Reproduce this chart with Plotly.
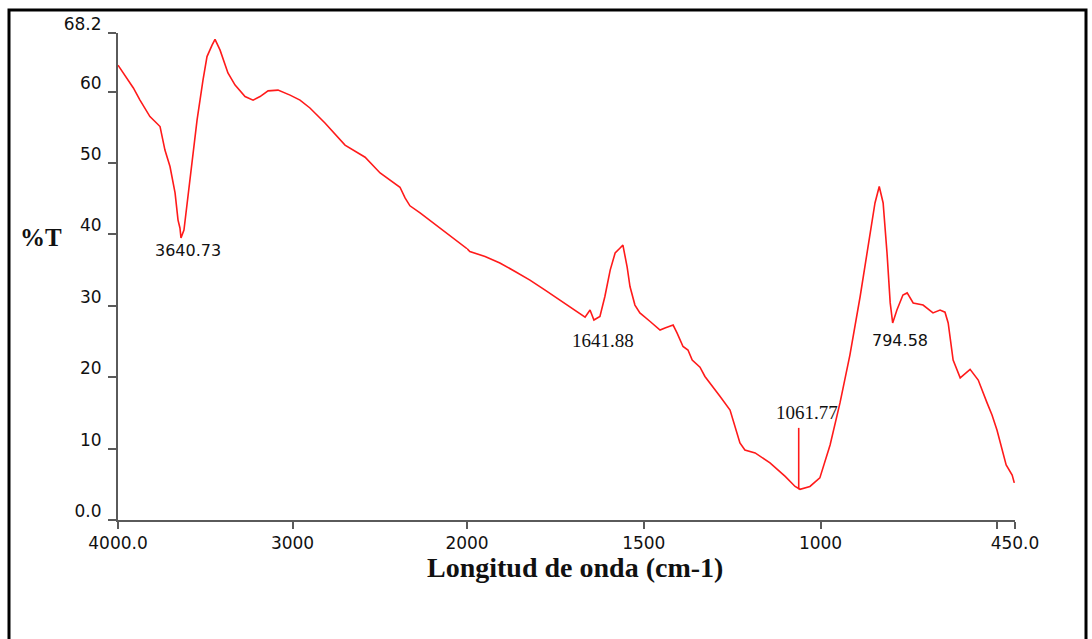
import plotly.graph_objects as go

# ---- data (wavenumber cm-1, %T) ----
# high-wavenumber segment (4000 -> 2000), compressed scale
wn_hi = [4000, 3912, 3874, 3817, 3788, 3759, 3731, 3702, 3673, 3656, 3645, 3639, 3622,
         3587, 3547, 3513, 3490, 3461, 3444, 3415, 3370, 3329, 3272, 3226, 3186, 3140,
         3083, 3014, 2957, 2900, 2814, 2699, 2584, 2498, 2384, 2355, 2344, 2327, 2269,
         2155, 2069, 2000]
t_hi = [63.7, 60.5, 58.8, 56.5, 55.8, 55.1, 51.8, 49.5, 45.8, 42.0, 40.9, 39.5, 40.6,
        47.6, 56.0, 61.6, 64.9, 66.5, 67.3, 65.8, 62.6, 60.9, 59.3, 58.8, 59.3, 60.1,
        60.2, 59.5, 58.8, 57.7, 55.6, 52.5, 50.8, 48.6, 46.6, 45.1, 44.6, 44.0, 43.0,
        40.9, 39.2, 38.0]

# low-wavenumber segment (2000 -> 450), expanded scale
wn_lo = [2000, 1992, 1949, 1907, 1864, 1822, 1779, 1737, 1694, 1666, 1652, 1641, 1624,
         1610, 1595, 1581, 1567, 1559, 1547, 1539, 1525, 1511, 1482, 1454, 1440, 1417,
         1406, 1389, 1375, 1363, 1341, 1327, 1284, 1256, 1228, 1214, 1185, 1143, 1100,
         1072, 1058, 1030, 1002, 973, 945, 917, 888, 860, 846, 834, 823, 812, 803, 796,
         784, 767, 755, 738, 710, 682, 662, 648, 639, 625, 605, 577, 554, 529, 515, 501,
         487, 475, 458, 452]
t_lo = [38.0, 37.6, 36.9, 36.0, 34.8, 33.6, 32.2, 30.8, 29.4, 28.4, 29.4, 28.0, 28.5,
        31.3, 35.0, 37.4, 38.1, 38.5, 35.4, 32.7, 30.1, 29.0, 27.8, 26.6, 26.9, 27.3,
        26.2, 24.3, 23.8, 22.4, 21.4, 20.1, 17.3, 15.4, 10.8, 9.8, 9.4, 8.0, 6.1,
        4.7, 4.3, 4.7, 5.9, 10.5, 16.4, 23.1, 31.3, 39.7, 44.4, 46.7, 44.4, 37.4, 30.4, 27.6,
        29.4, 31.5, 31.8, 30.4, 30.1, 29.0, 29.4, 29.1, 27.6, 22.4, 19.9, 21.1, 19.6, 16.4,
        14.7, 12.6, 9.8, 7.7, 6.3, 5.2]

# peak labels
peak_hi_labels = ["3640.73"]
peak_hi_x = [3599]
peak_hi_y = [37.7]
peak_lo_labels = ["1641.88", "1061.77", "794.58"]
peak_lo_x = [1615, 1038, 775]
peak_lo_y = [25.2, 15.0, 25.2]

# marker line at 1061.77
marker_wn = [1061.77, 1061.77]
marker_t = [4.3, 12.9]

# ticks
x_hi_ticks = [4000, 3000, 2000]
x_hi_text = ["4000.0", "3000", "2000"]
x_lo_ticks = [1500, 1000, 500, 450]
x_lo_text = ["1500", "1000", "", "450.0"]
y_ticks = [0, 10, 20, 30, 40, 50, 60, 68.2]
y_text = ["0.0", "10", "20", "30", "40", "50", "60", "68.2"]

RED = "#ff1a1a"
AX = "#5a5a5a"
TICKFONT = dict(family="DejaVu Sans", size=17, color="#111111")

fig = go.Figure()
fig.add_trace(go.Scatter(x=wn_hi, y=t_hi, mode="lines", xaxis="x", yaxis="y",
                         line=dict(color=RED, width=1.6), showlegend=False))
fig.add_trace(go.Scatter(x=wn_lo, y=t_lo, mode="lines", xaxis="x2", yaxis="y",
                         line=dict(color=RED, width=1.6), showlegend=False))
fig.add_trace(go.Scatter(x=marker_wn, y=marker_t, mode="lines", xaxis="x2", yaxis="y",
                         line=dict(color=RED, width=1.6), showlegend=False))

split = (467 - 118) / 897

fig.update_layout(
    width=1092, height=639, autosize=False,
    margin=dict(l=118, r=77, t=33, b=119),
    paper_bgcolor="white", plot_bgcolor="white",
    showlegend=False,
    xaxis=dict(domain=[0, split], range=[4000, 2000], anchor="y",
               tickmode="array", tickvals=x_hi_ticks, ticktext=x_hi_text,
               ticks="outside", ticklen=7, tickwidth=2, tickcolor=AX,
               showline=True, linecolor=AX, linewidth=2,
               showgrid=False, zeroline=False, tickfont=TICKFONT),
    xaxis2=dict(domain=[split, 1], range=[2000, 450], anchor="y",
                tickmode="array", tickvals=x_lo_ticks, ticktext=x_lo_text,
                ticks="outside", ticklen=7, tickwidth=2, tickcolor=AX,
                showline=True, linecolor=AX, linewidth=2,
                showgrid=False, zeroline=False, tickfont=TICKFONT),
    yaxis=dict(domain=[0, 1], range=[0, 68.2], anchor="x",
               tickmode="array", tickvals=y_ticks, ticktext=y_text,
               ticks="outside", ticklen=8, tickwidth=2, tickcolor=AX,
               showline=True, linecolor=AX, linewidth=2,
               showgrid=False, zeroline=False, tickfont=TICKFONT,
               ticklabelshift=-9, ticklabelstandoff=3),
)

annotations = []
for lab, x, y in zip(peak_hi_labels, peak_hi_x, peak_hi_y):
    annotations.append(dict(text=lab, x=x, y=y, xref="x", yref="y", showarrow=False,
                            font=dict(family="DejaVu Sans", size=16, color="#111111")))
serif_peaks = {"1641.88", "1061.77"}
for lab, x, y in zip(peak_lo_labels, peak_lo_x, peak_lo_y):
    if lab in serif_peaks:
        f = dict(family="Liberation Serif", size=19, color="#111111")
    else:
        f = dict(family="DejaVu Sans", size=16, color="#111111")
    annotations.append(dict(text=lab, x=x, y=y, xref="x2", yref="y", showarrow=False, font=f))

annotations.append(dict(text="<b>%T</b>", x=(18 - 118) / 897, y=(520 - 238) / 487,
                        xref="paper", yref="paper", xanchor="left", showarrow=False,
                        font=dict(family="Liberation Serif", size=25, color="#111111")))
annotations.append(dict(text="<b>Longitud de onda (cm-1)</b>", x=(575 - 118) / 897,
                        y=(520 - 585) / 487, xref="paper", yref="paper", showarrow=False,
                        font=dict(family="Liberation Serif", size=28, color="#111111")))
fig.update_layout(annotations=annotations)

# outer frame
fig.add_shape(type="rect", xref="paper", yref="paper",
              x0=(9 - 118) / 897, x1=(1086 - 118) / 897,
              y0=(520 - 660) / 487, y1=(520 - 10) / 487,
              line=dict(color="black", width=3), fillcolor="rgba(0,0,0,0)", layer="above")

fig.write_html("out.html")
